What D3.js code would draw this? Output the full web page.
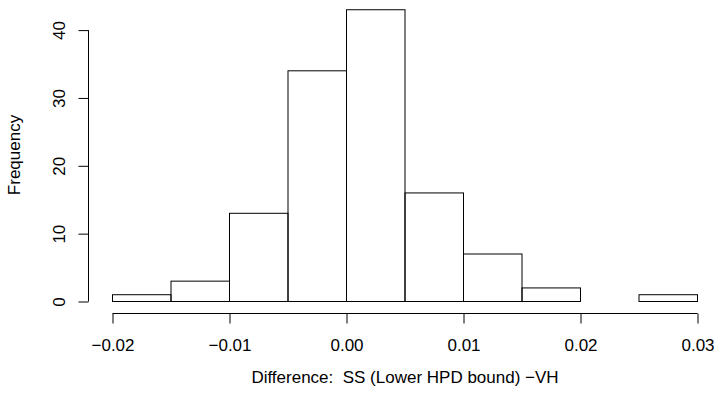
<!DOCTYPE html>
<html>
<head>
<meta charset="utf-8">
<script src="https://cdn.jsdelivr.net/npm/d3@7"></script>
<style>
  body { margin: 0; background: #fff; }
  svg { display: block; }
  text { font-family: "Liberation Sans", Arial, sans-serif; fill: #000; white-space: pre; }
</style>
</head>
<body>
<svg id="chart" width="716" height="395"></svg>
<script>
// histogram bins (edges) and counts
const binEdges = [-0.02, -0.015, -0.01, -0.005, 0, 0.005, 0.01, 0.015, 0.02, 0.025, 0.03];
const counts = [1, 3, 13, 34, 43, 16, 7, 2, 0, 1];
const xTicks = [-0.02, -0.01, 0.00, 0.01, 0.02, 0.03];
const yTicks = [0, 10, 20, 30, 40];
const xTitle = 'Difference:  SS (Lower HPD bound) \u2212VH';
const yTitle = 'Frequency';

const fontSize = '17px';
const svg = d3.select('#chart');

const x = d3.scaleLinear().domain([-0.02, 0.03]).range([112, 697]);
const y = d3.scaleLinear().domain([0, 40]).range([301, 29.6]);

const bins = counts.map((c, i) => ({ x0: binEdges[i], x1: binEdges[i + 1], n: c }));

svg.append('g')
  .selectAll('rect')
  .data(bins)
  .enter().append('rect')
  .attr('x', (d) => x(d.x0) + 0.5)
  .attr('y', (d) => y(d.n) + 0.5)
  .attr('width', (d) => x(d.x1) - x(d.x0))
  .attr('height', (d) => y(0) - y(d.n))
  .attr('fill', 'none')
  .attr('stroke', '#000')
  .attr('stroke-width', 1);

const fmt = (v) => d3.format('.2f')(v).replace('-', '\u2212');

const axisX = d3.axisBottom(x)
  .tickValues(xTicks)
  .tickSize(10)
  .tickPadding(15)
  .tickFormat(fmt);

const gx = svg.append('g')
  .attr('transform', 'translate(0.5, 313.5)')
  .call(axisX);
gx.select('.domain').attr('d', `M${x(-0.02)},0H${x(0.03)}`);

const axisY = d3.axisLeft(y)
  .tickValues(yTicks)
  .tickSize(10)
  .tickPadding(0);

const gy = svg.append('g')
  .attr('transform', 'translate(88.5, 0.5)')
  .call(axisY);
gy.select('.domain').attr('d', `M0,${y(0)}V${y(40)}`);
gy.selectAll('.tick text')
  .attr('x', null)
  .attr('dy', null)
  .attr('text-anchor', 'middle')
  .attr('transform', 'translate(-24, 0) rotate(-90)');

svg.selectAll('.tick text').style('font-size', fontSize).style('font-family', '"Liberation Sans", Arial, sans-serif');
svg.selectAll('.domain, .tick line').attr('stroke', '#000');

svg.append('text')
  .attr('x', 405)
  .attr('y', 383)
  .attr('text-anchor', 'middle')
  .style('font-size', fontSize)
  .text(xTitle);

svg.append('text')
  .attr('transform', 'translate(20, 155) rotate(-90)')
  .attr('text-anchor', 'middle')
  .style('font-size', fontSize)
  .text(yTitle);
</script>
</body>
</html>
